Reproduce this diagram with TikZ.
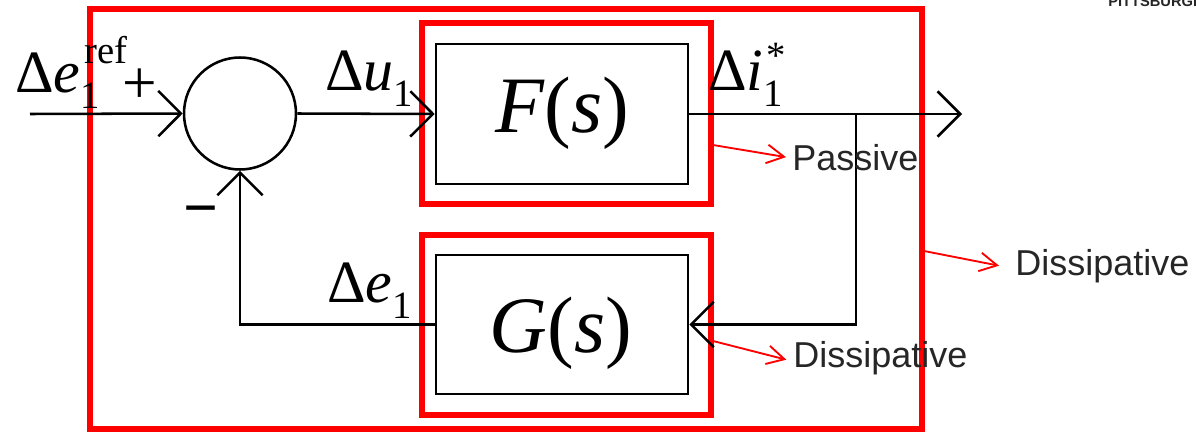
\documentclass[tikz,border=0pt]{standalone}
\usepackage{fontspec}
\setmainfont{Liberation Serif}[ItalicFont={Liberation Serif Italic},BoldFont={Liberation Serif Bold}]
\newfontfamily\arialfam{Liberation Sans}[BoldFont={Liberation Sans Bold}]
\usetikzlibrary{arrows.meta}
\definecolor{txtgray}{RGB}{38,38,38}
\newcommand\dlabel[3]{\fontsize{45pt}{45pt}\selectfont Δ\textit{#1}\fontsize{29pt}{29pt}\selectfont\rlap{\raisebox{-12.5pt}{#2}}#3}
\begin{document}
\begin{tikzpicture}[x=0.75pt,y=-0.75pt,
  wire/.style={line width=1.9pt,black},
  arr/.style={wire,-{Straight Barb[length=17pt,width=34pt]}},
  blk/.style={draw,line width=1.9pt,rectangle,inner sep=0pt},
  redbox/.style={draw=red,line width=3.8pt,rectangle,inner sep=0pt},
  redarr/.style={red,line width=1.4pt,-{Straight Barb[length=13pt,width=14pt]}},
  sanslbl/.style={font=\arialfam\fontsize{27pt}{27pt}\selectfont,text=txtgray,inner sep=0pt,anchor=base west},
  mathlbl/.style={inner sep=0pt,anchor=base west},
  bigtxt/.style={inner sep=0pt,anchor=base,font=\fontsize{60pt}{60pt}\selectfont}]
\useasboundingbox (0,0) rectangle (1196,432);

% red frames
\node[redbox,minimum width=624pt,minimum height=315pt] (bigred) at (506,219) {};
\node[redbox,minimum width=216.75pt,minimum height=135.75pt] (redF) at (566.5,113.5) {};
\node[redbox,minimum width=216.75pt,minimum height=135pt] (redG) at (566.5,325) {};

% blocks
\node[draw,circle,line width=1.9pt,inner sep=0pt,minimum size=84pt] (sum) at (240,113.5) {};
\node[blk,minimum width=189pt,minimum height=105pt] (F) at (562,114) {};
\node[blk,minimum width=189pt,minimum height=104.25pt] (G) at (562,324.5) {};
\node[bigtxt] (Ftxt) at (562,132) {\textit{F}(\textit{s})};
\node[bigtxt] (Gtxt) at (561,352) {\textit{G}(\textit{s})};

% wires
\coordinate (in) at (30,114);
\coordinate (out) at (962,114);
\coordinate (br) at (856,114);
\draw[arr] (in) -- (sum.west);
\draw[arr] (sum.east) -- (F.west);
\draw[arr] (F.east) -- (out);
\draw[arr] (br) |- (G.east);
\draw[arr] (G.west) -| (sum.south);

% math labels
\node[mathlbl] (lref) at (15,92) {\dlabel{e}{1}{\kern3pt\raisebox{21.75pt}{ref}}};
\node[mathlbl] (lu) at (325,90) {\dlabel{u}{1}{}};
\node[mathlbl] (li) at (708,90) {\dlabel{i}{1}{\kern2pt\raisebox{16pt}{*}}};
\node[mathlbl] (le) at (327,302) {\dlabel{e}{1}{}};
\node[inner sep=0pt,font=\fontsize{46pt}{46pt}\selectfont] (plus) at (140,86) {+};
\node[inner sep=0pt,font=\fontsize{46pt}{46pt}\selectfont\bfseries] (minus) at (201,217) {−};

% property labels
\node[sanslbl] (passive) at (792,170) {Passive};
\node[sanslbl] (dissG) at (793,367) {Dissipative};
\node[sanslbl] (dissAll) at (1015,275) {Dissipative};
\coordinate (pa) at (713,145);
\coordinate (pb) at (713,341);
\coordinate (pc) at (924,251);
\draw[redarr] (pa) -- ([xshift=-4.5pt]passive.west);
\draw[redarr] (pb) -- ([xshift=-5pt,yshift=-1.5pt]dissG.west);
\draw[redarr] (pc) -- ([xshift=-12pt]dissAll.west);

% cut-off header text
\node[inner sep=0pt,anchor=base west,text=txtgray,font=\arialfam\bfseries\fontsize{11pt}{11pt}\selectfont] (hdr) at (1108,7) {PITTSBURGH};
\end{tikzpicture}
\end{document}
